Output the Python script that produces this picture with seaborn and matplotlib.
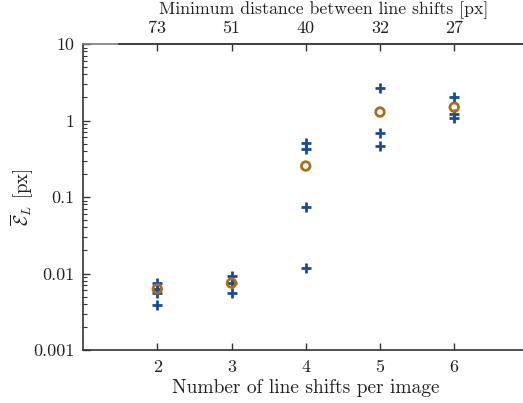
import numpy as np
import pandas as pd
import matplotlib
matplotlib.use("Agg")
import matplotlib.pyplot as plt
from matplotlib.ticker import LogLocator, NullFormatter, FixedLocator, NullLocator
import seaborn as sns

# Individual runs (crosses) per number of line shifts
shifts_2 = [0.0075, 0.0063, 0.0055, 0.0039]
shifts_3 = [0.0093, 0.0075, 0.0056]
shifts_4 = [0.51, 0.42, 0.075, 0.0118]
shifts_5 = [2.7, 0.68, 0.47]
shifts_6 = [2.03, 1.21, 1.09]

# Mean error per number of line shifts (circles)
n_shifts = [2, 3, 4, 5, 6]
mean_error = [0.0063, 0.0075, 0.254, 1.29, 1.49]

# Secondary axis labels: minimum distance between line shifts
min_distance = ["73", "51", "40", "32", "27"]

y_ticks = [0.001, 0.01, 0.1, 1, 10]
y_ticklabels = ["0.001", "0.01", "0.1", "1", "10"]

runs = pd.DataFrame(
    [(n, v) for n, vals in zip(n_shifts, [shifts_2, shifts_3, shifts_4, shifts_5, shifts_6]) for v in vals],
    columns=["n", "err"],
)
means = pd.DataFrame({"n": n_shifts, "err": mean_error})

sns.set_style("ticks")
plt.rcParams["font.family"] = ["cmr10", "DejaVu Serif"]
plt.rcParams["mathtext.fontset"] = "cm"
plt.rcParams["axes.formatter.use_mathtext"] = True

blue = "#1a4a98"
brown = "#a66f1c"
axis_col = "#333333"
text_col = "#222222"

W, H = 523, 403
x_lo, x_hi = 1.0, 7.0
px_per_unit = 74.25
left_px, bottom_px, top_px = 83, 350, 44
right_px = left_px + (x_hi - x_lo) * px_per_unit

fig = plt.figure(figsize=(W / 100, H / 100), dpi=100)
ax = fig.add_axes([left_px / W, (H - bottom_px) / H,
                   (right_px - left_px) / W, (bottom_px - top_px) / H])

sns.scatterplot(data=runs, x="n", y="err", marker="+", s=45, linewidth=2.0,
                color=blue, ax=ax, zorder=3)
sns.scatterplot(data=means, x="n", y="err", marker="o", s=38, facecolor="none",
                edgecolor=brown, linewidth=2.0, ax=ax, zorder=4)

ax.set_yscale("log")
ax.set_ylim(0.001, 10)
ax.set_xlim(x_lo, x_hi)
ax.set_xticks(n_shifts)
ax.set_xticklabels([str(n) for n in n_shifts])
ax.yaxis.set_major_locator(FixedLocator(y_ticks))
ax.set_yticklabels(y_ticklabels)
ax.yaxis.set_minor_locator(LogLocator(base=10, subs=np.arange(2, 10), numticks=20))
ax.yaxis.set_minor_formatter(NullFormatter())

for side in ["left", "bottom"]:
    ax.spines[side].set_color(axis_col)
    ax.spines[side].set_linewidth(1.2)
ax.spines["top"].set_color("#7a7a7a")
ax.spines["top"].set_linewidth(1.2)
ax.spines["right"].set_visible(False)

ax.tick_params(axis="both", which="major", direction="in", length=5, width=1,
               color=axis_col, labelsize=13, labelcolor=text_col, pad=7)
ax.tick_params(axis="y", which="minor", direction="in", length=3, width=0.8, color=axis_col)
ax.tick_params(axis="y", which="major", pad=6)

ax.set_xlabel("Number of line shifts per image", fontsize=14, color=text_col, labelpad=3)
ax.set_ylabel(r"$\overline{\mathcal{E}}_L$ [px]", fontsize=13.5, color=text_col, labelpad=-2)

# Upper axis for the minimum distance, starting slightly right of the main axes
top_left_px = 119
ax_top = fig.add_axes([top_left_px / W, (H - bottom_px) / H,
                       (right_px - top_left_px) / W, (bottom_px - top_px) / H])
ax_top.patch.set_visible(False)
ax_top.set_xlim(x_lo + (top_left_px - left_px) / px_per_unit, x_hi)
ax_top.xaxis.tick_top()
ax_top.set_xticks(n_shifts)
ax_top.set_xticklabels(min_distance)
ax_top.yaxis.set_major_locator(NullLocator())
for side in ["left", "bottom", "right"]:
    ax_top.spines[side].set_visible(False)
ax_top.spines["top"].set_color(axis_col)
ax_top.spines["top"].set_linewidth(1.2)
ax_top.tick_params(axis="x", direction="in", length=5, width=1, color=axis_col,
                   labelsize=13, labelcolor=text_col, pad=6)

# Title of the upper axis, centred over it
fig.text((top_left_px + right_px) / 2 / W, 1 - 10 / H,
         "Minimum distance between line shifts [px]", fontsize=12.8,
         color=text_col, ha="center", va="center")

fig.savefig("out.png", dpi=100)
